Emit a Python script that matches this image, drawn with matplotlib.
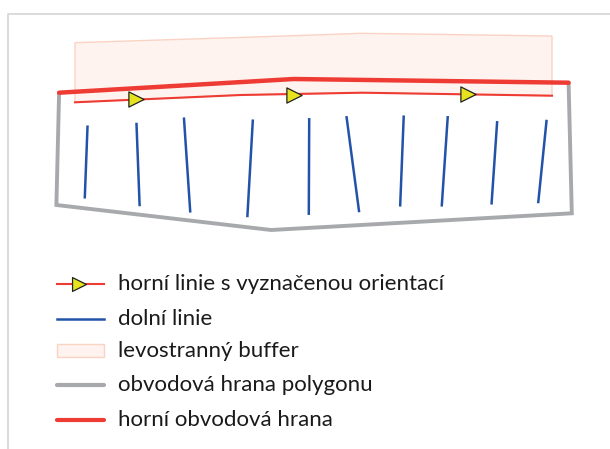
import matplotlib
matplotlib.use("Agg")
import matplotlib.pyplot as plt
from matplotlib.patches import Polygon, Rectangle

plt.rcParams["font.family"] = ["Lato", "DejaVu Sans"]

# --- data (pixel-like map coordinates, y grows downward) ----------------------
buffer_x = [75, 245, 362, 552, 552, 362, 241, 75]
buffer_y = [42.7, 37.3, 33.3, 36.0, 95.7, 92.7, 95.0, 102.3]

upper_x = [75, 241, 362, 552]
upper_y = [102.3, 95.0, 92.7, 95.7]

arrow_x = [136, 294.4, 468]
arrow_y = [99.3, 94.7, 94.3]

top_edge_x = [59.1, 293.7, 568.6]
top_edge_y = [92.7, 79.0, 82.7]

outline_x = [59.1, 56.4, 271.1, 571.8, 568.6]
outline_y = [92.7, 205.0, 230.0, 213.3, 82.7]

lower_x0 = [87.5, 136.5, 184.0, 252.8, 309.2, 346.6, 403.7, 447.7, 497.1, 546.5]
lower_y0 = [126.7, 124.0, 118.7, 120.7, 119.3, 117.3, 116.7, 117.3, 122.3, 121.0]
lower_x1 = [84.8, 139.6, 190.2, 247.4, 308.8, 359.0, 400.2, 441.8, 491.6, 538.3]
lower_y1 = [197.3, 205.0, 211.3, 216.0, 213.7, 211.0, 205.3, 205.3, 203.3, 202.0]

legend_labels = [
    "horní linie s vyznačenou orientací",
    "dolní linie",
    "levostranný buffer",
    "obvodová hrana polygonu",
    "horní obvodová hrana",
]

RED = "#EE3B33"
BLUE = "#2353A8"
GRAY = "#A7A9AC"
YELLOW = "#E6E31E"

fig = plt.figure(figsize=(6.10, 4.49), dpi=100)
ax = fig.add_axes([0, 0, 1, 1])
ax.set_xlim(0, 610)
ax.set_ylim(449, 0)
ax.axis("off")

# frame
ax.plot([7.5, 7.5, 610], [449, 14, 14], color="#D4D4D4", lw=1.2)

# buffer
ax.add_patch(Polygon(list(zip(buffer_x, buffer_y)), closed=True,
                     facecolor="#FEF3EE", edgecolor="#FAD3C4", lw=1.0, zorder=1))

# polygon outline
ax.plot(outline_x, outline_y, color=GRAY, lw=2.8, zorder=2,
        solid_joinstyle="miter", solid_capstyle="butt")

# lower lines
for xa, ya, xb, yb in zip(lower_x0, lower_y0, lower_x1, lower_y1):
    ax.plot([xa, xb], [ya, yb], color=BLUE, lw=1.8, zorder=3)

# upper line with orientation
ax.plot(upper_x, upper_y, color=RED, lw=1.5, zorder=4)
ax.scatter(arrow_x, arrow_y, marker=">", s=120, c=YELLOW,
           edgecolors="#222222", linewidths=0.9, zorder=6)

# top outline edge
ax.plot(top_edge_x, top_edge_y, color=RED, lw=3.2, zorder=5, solid_capstyle="round")

# --- legend -------------------------------------------------------------------
leg_y = [284.3, 319.3, 350.7, 385.3, 420.0]
hx0, hx1, tx = 57, 104, 118.5

ax.plot([hx0, hx1], [leg_y[0]] * 2, color=RED, lw=1.5)
ax.scatter([79], [leg_y[0]], marker=">", s=100, c=YELLOW,
           edgecolors="#222222", linewidths=0.9, zorder=6)
ax.plot([hx0, hx1], [leg_y[1]] * 2, color=BLUE, lw=1.8)
ax.add_patch(Rectangle((hx0, leg_y[2] - 6.5), hx1 - hx0, 13,
                       facecolor="#FEF3EE", edgecolor="#FAD3C4", lw=1.0))
ax.plot([hx0, hx1], [leg_y[3]] * 2, color=GRAY, lw=3.0, solid_capstyle="round")
ax.plot([hx0, hx1], [leg_y[4]] * 2, color=RED, lw=3.0, solid_capstyle="round")

for y, label in zip(leg_y, legend_labels):
    ax.text(tx, y, label, fontsize=16, va="center", ha="left", color="#1a1a1a")

fig.savefig("out.png", dpi=100)
